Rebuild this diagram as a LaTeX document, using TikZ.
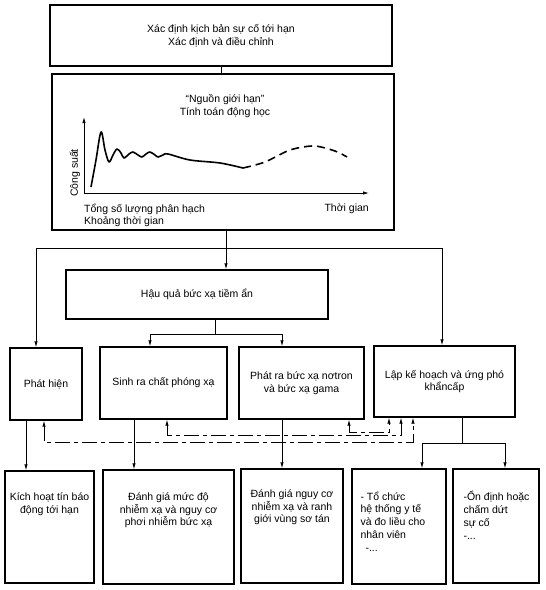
\documentclass[tikz,border=0pt]{standalone}
\usepackage{fontspec}
\setmainfont{Liberation Sans}
\usetikzlibrary{positioning,arrows.meta}

\tikzset{
  box/.style={draw, line width=1.3pt, align=center, inner sep=2pt},
  txt/.style={align=center, inner sep=0pt},
  link/.style={line width=0.8pt},
  arr/.style={link, -{Latex[length=6pt,width=3.4pt]}},
  back/.style={link, dash pattern=on 15pt off 4pt on 4pt off 4pt,
    {Latex[length=6pt,width=3.4pt]}-{Latex[length=6pt,width=3.4pt]}},
}

\begin{document}
\begin{tikzpicture}[x=1pt, y=-1pt, font=\fontsize{10.5}{12.8}\selectfont]
\useasboundingbox (0,0) rectangle (546,590);

% Scenario and source term
\node[box, minimum width=342pt, minimum height=61pt] (scen) at (221,35.5)
  {Xác định kịch bản sự cố tới hạn\\Xác định và điều chỉnh};
\node[box, minimum width=342pt, minimum height=156pt] (src) at (223,152) {};
\node[txt] (srctitle) at (225,106) {“Nguồn giới hạn”\\Tính toán động học};

% Power curve
\coordinate (orig) at (84,193);
\coordinate (ytip) at (84,117);
\coordinate (xtip) at (369,193);
\draw[arr] (orig) -- (ytip);
\draw[arr] (orig) -- (xtip);
\node[txt, rotate=90] (ylab) at (75,173) {Công suất};
\node[txt, anchor=west] (fis) at (84,209) {Tổng số lượng phân hạch};
\node[txt, anchor=west] (dur) at (84,222) {Khoảng thời gian};
\node[txt, anchor=east] (tlab) at (369,209) {Thời gian};
\draw[line width=1.6pt, line join=round] plot[smooth, tension=0.55] coordinates {
  (91,187) (96,160) (101,132) (105,150) (109,162) (113,155) (117,149)
  (121,153) (124,158) (129,154) (133,152) (138,155) (142,157) (146,154)
  (150,152) (155,155) (158,157) (163,155) (168,154) (190,160) (220,163) (243,168)};
\draw[line width=1.6pt, dash pattern=on 8pt off 5pt] plot[smooth] coordinates {
  (243,168) (265,162) (290,150) (314,146) (335,151) (347,157)};

% Consequences
\node[box, minimum width=262pt, minimum height=49pt] (hq) at (197,294.5) {Hậu quả bức xạ tiềm ẩn};
\node[box, minimum width=72pt, minimum height=72pt] (ph) at (46,384) {Phát hiện};
\node[box, minimum width=127pt, minimum height=72pt] (sinh) at (163.5,383) {Sinh ra chất phóng xạ};
\node[box, minimum width=125pt, minimum height=72pt] (phat) at (301.5,383)
  {Phát ra bức xạ nơtron\\và bức xạ gama};
\node[box, minimum width=141pt, minimum height=71pt] (lap) at (444.5,381.5)
  {Lập kế hoạch và ứng phó\\khẩncấp};

% Actions
\node[box, minimum width=89pt, minimum height=112pt] (kich) at (49.5,527) {};
\node[txt, below=22pt of kich.north] (kicht) {Kích hoạt tín báo\\động tới hạn};
\node[box, minimum width=131pt, minimum height=114pt] (dgm) at (168.5,527) {};
\node[txt, below=23pt of dgm.north] (dgmt) {Đánh giá mức độ\\nhiễm xạ và nguy cơ\\phơi nhiễm bức xạ};
\node[box, minimum width=102pt, minimum height=114pt] (dgn) at (292,526) {};
\node[txt, below=21pt of dgn.north] (dgnt) {Đánh giá nguy cơ\\nhiễm xạ và ranh\\giới vùng sơ tán};
\node[box, minimum width=94pt, minimum height=115pt] (toc) at (399,526.5) {};
\node[txt, align=left, below right=23pt and 9pt of toc.north west] (toct)
  {- Tổ chức\\hệ thống y tế\\và đo liều cho\\nhân viên\\\hspace*{5pt}-...};
\node[box, minimum width=86pt, minimum height=114pt] (ond) at (496,526) {};
\node[txt, align=left, below right=23pt and 11pt of ond.north west] (ondt)
  {-Ổn định hoặc\\chấm dứt\\sự cố\\-...};

% Top links
\coordinate (j1) at (226,248);
\coordinate (jl) at (36,248);
\coordinate (jr) at (442,248);
\draw[link] (scen.south) -- (scen.south |- src.north);
\draw[arr] (src.south -| j1) -- (hq.north -| j1);
\draw[link] (jl) -- (jr);
\draw[arr] (jl) -- (ph.north -| jl);
\draw[arr] (jr) -- (lap.north -| jr);
\coordinate (j2) at (215,334);
\coordinate (j2l) at (150,334);
\coordinate (j2r) at (282,334);
\draw[link] (hq.south -| j2) -- (j2);
\draw[link] (j2l) -- (j2r);
\draw[arr] (j2l) -- (sinh.north -| j2l);
\draw[arr] (j2r) -- (phat.north -| j2r);

% Down links
\coordinate (xa) at (26,0);
\coordinate (xb) at (134,0);
\coordinate (xc) at (282,0);
\draw[arr] (ph.south -| xa) -- (kich.north -| xa);
\draw[arr] (sinh.south -| xb) -- (dgm.north -| xb);
\draw[arr] (phat.south -| xc) -- (dgn.north -| xc);
\coordinate (j3) at (462,443);
\coordinate (j3l) at (422,443);
\coordinate (j3r) at (505,443);
\draw[link] (lap.south -| j3) -- (j3);
\draw[link] (j3l) -- (j3r);
\draw[arr] (j3l) -- (toc.north -| j3l);
\draw[arr] (j3r) -- (ond.north -| j3r);

% Feedback to planning
\coordinate (f1a) at (44,442);
\coordinate (f1b) at (413,442);
\coordinate (f2a) at (167,435);
\coordinate (f2b) at (401,435);
\coordinate (f3a) at (349,432);
\coordinate (f3b) at (389,432);
\draw[back] (ph.south -| f1a) -- (f1a) -- (f1b) -- (lap.south -| f1b);
\draw[back] (sinh.south -| f2a) -- (f2a) -- (f2b) -- (lap.south -| f2b);
\draw[back] (phat.south -| f3a) -- (f3a) -- (f3b) -- (lap.south -| f3b);
\end{tikzpicture}
\end{document}
